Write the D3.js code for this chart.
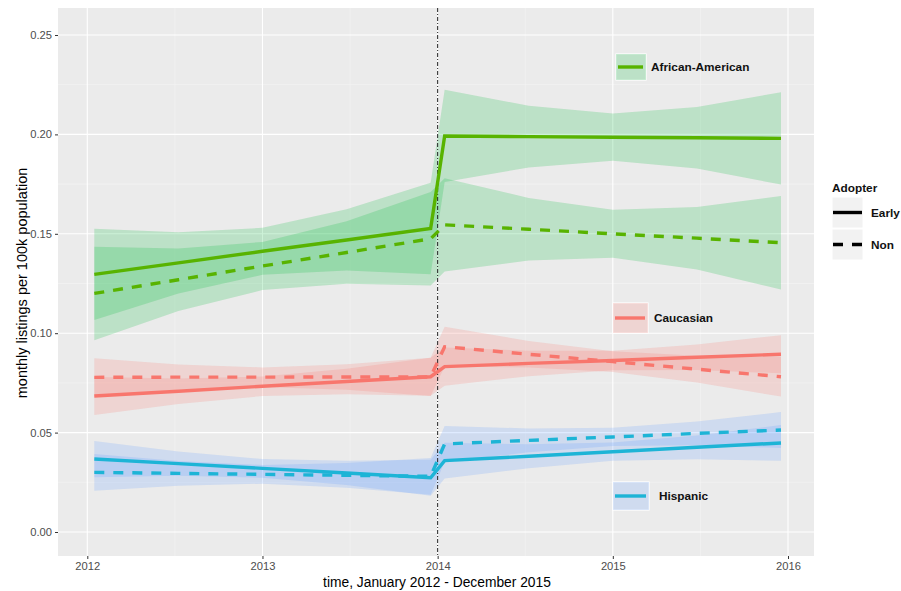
<!DOCTYPE html>
<html>
<head>
<meta charset="utf-8">
<script src="https://cdn.jsdelivr.net/npm/d3@7"></script>
<style>
  html, body { margin: 0; padding: 0; background: #ffffff; }
  svg { display: block; font-family: "Liberation Sans", Arial, Helvetica, sans-serif; }
</style>
</head>
<body>
<svg id="chart" width="901" height="591"></svg>
<script>
// Sample times (decimal years, mid-month): five points before and five after Jan 2014
const times = [2012.04, 2012.52, 2013.0, 2013.48, 2013.96, 2014.04, 2014.52, 2015.0, 2015.48, 2015.96];

// Monthly listings per 100k population: fitted values and confidence limits
const aaEarly      = [0.1296, 0.1354, 0.1412, 0.1469, 0.1527, 0.1992, 0.1989, 0.1986, 0.1983, 0.1980];
const aaEarlyLow   = [0.1066, 0.1200, 0.1294, 0.1315, 0.1297, 0.1760, 0.1834, 0.1867, 0.1828, 0.1748];
const aaEarlyHigh  = [0.1526, 0.1508, 0.1530, 0.1623, 0.1757, 0.2224, 0.2144, 0.2105, 0.2138, 0.2212];

const aaNon        = [0.1200, 0.1269, 0.1338, 0.1406, 0.1475, 0.1545, 0.1523, 0.1500, 0.1478, 0.1455];
const aaNonLow     = [0.0965, 0.1112, 0.1217, 0.1249, 0.1240, 0.1310, 0.1366, 0.1379, 0.1321, 0.1220];
const aaNonHigh    = [0.1435, 0.1426, 0.1459, 0.1563, 0.1710, 0.1780, 0.1680, 0.1621, 0.1635, 0.1690];

const caEarly      = [0.0684, 0.0708, 0.0733, 0.0757, 0.0781, 0.0832, 0.0848, 0.0863, 0.0879, 0.0894];
const caEarlyLow   = [0.0588, 0.0644, 0.0684, 0.0693, 0.0685, 0.0736, 0.0784, 0.0814, 0.0815, 0.0798];
const caEarlyHigh  = [0.0780, 0.0772, 0.0782, 0.0821, 0.0877, 0.0928, 0.0912, 0.0912, 0.0943, 0.0990];

const caNon        = [0.0778, 0.0779, 0.0779, 0.0780, 0.0780, 0.0932, 0.0894, 0.0857, 0.0819, 0.0781];
const caNonLow     = [0.0682, 0.0715, 0.0730, 0.0716, 0.0684, 0.0832, 0.0827, 0.0805, 0.0752, 0.0681];
const caNonHigh    = [0.0874, 0.0843, 0.0828, 0.0844, 0.0876, 0.1032, 0.0961, 0.0909, 0.0886, 0.0881];

const hiEarly      = [0.0367, 0.0344, 0.0320, 0.0297, 0.0273, 0.0359, 0.0381, 0.0404, 0.0426, 0.0448];
const hiEarlyLow   = [0.0276, 0.0283, 0.0273, 0.0236, 0.0182, 0.0269, 0.0321, 0.0358, 0.0366, 0.0358];
const hiEarlyHigh  = [0.0458, 0.0405, 0.0367, 0.0358, 0.0364, 0.0449, 0.0441, 0.0450, 0.0486, 0.0538];

const hiNon        = [0.0300, 0.0295, 0.0290, 0.0285, 0.0280, 0.0443, 0.0461, 0.0478, 0.0496, 0.0513];
const hiNonLow     = [0.0208, 0.0233, 0.0243, 0.0223, 0.0188, 0.0353, 0.0401, 0.0432, 0.0436, 0.0423];
const hiNonHigh    = [0.0392, 0.0357, 0.0337, 0.0347, 0.0372, 0.0533, 0.0521, 0.0524, 0.0556, 0.0603];

// Groups, adopter types and axis ticks
const groups = ["African-American", "Caucasian", "Hispanic"];
const adopters = ["Early", "Non"];
const yTicks = [0, 0.05, 0.10, 0.15, 0.20, 0.25];
const yMinor = [0.025, 0.075, 0.125, 0.175, 0.225];
const xTicks = [2012, 2013, 2014, 2015, 2016];
const xMinor = [2012.5, 2013.5, 2014.5, 2015.5];
const cutoff = 2014;

const lineColor = { "African-American": "#58B300", "Caucasian": "#F8766D", "Hispanic": "#1DB4D6" };
const fillColor = { "African-American": "#00BA38", "Caucasian": "#F8766D", "Hispanic": "#619CFF" };

const series = [
  { group: "African-American", adopter: "Early", mid: aaEarly, lo: aaEarlyLow, hi: aaEarlyHigh },
  { group: "African-American", adopter: "Non",   mid: aaNon,   lo: aaNonLow,   hi: aaNonHigh },
  { group: "Caucasian",        adopter: "Early", mid: caEarly, lo: caEarlyLow, hi: caEarlyHigh },
  { group: "Caucasian",        adopter: "Non",   mid: caNon,   lo: caNonLow,   hi: caNonHigh },
  { group: "Hispanic",         adopter: "Early", mid: hiEarly, lo: hiEarlyLow, hi: hiEarlyHigh },
  { group: "Hispanic",         adopter: "Non",   mid: hiNon,   lo: hiNonLow,   hi: hiNonHigh }
];

const svg = d3.select("#chart");
const panel = { left: 58, right: 814, top: 8, bottom: 556 };

const x = d3.scaleLinear().domain([2012, 2016]).range([87.3, 788]);
const y = d3.scaleLinear().domain([0, 0.25]).range([532, 35]);

// Panel background and grid
svg.append("rect")
  .attr("x", panel.left).attr("y", panel.top)
  .attr("width", panel.right - panel.left).attr("height", panel.bottom - panel.top)
  .attr("fill", "#EBEBEB");

const grid = svg.append("g");
grid.selectAll(".ymin").data(yMinor).join("line")
  .attr("x1", panel.left).attr("x2", panel.right)
  .attr("y1", d => y(d)).attr("y2", d => y(d))
  .attr("stroke", "#F5F5F5").attr("stroke-width", 0.6);
grid.selectAll(".xmin").data(xMinor).join("line")
  .attr("y1", panel.top).attr("y2", panel.bottom)
  .attr("x1", d => x(d)).attr("x2", d => x(d))
  .attr("stroke", "#F5F5F5").attr("stroke-width", 0.6);
grid.selectAll(".ymaj").data(yTicks).join("line")
  .attr("x1", panel.left).attr("x2", panel.right)
  .attr("y1", d => y(d)).attr("y2", d => y(d))
  .attr("stroke", "#FFFFFF").attr("stroke-width", 1.1);
grid.selectAll(".xmaj").data(xTicks).join("line")
  .attr("y1", panel.top).attr("y2", panel.bottom)
  .attr("x1", d => x(d)).attr("x2", d => x(d))
  .attr("stroke", "#FFFFFF").attr("stroke-width", 1.1);

// Confidence ribbons
const area = d3.area()
  .x(d => x(d.t))
  .y0(d => y(d.lo))
  .y1(d => y(d.hi));

const rows = s => times.map((t, i) => ({ t, mid: s.mid[i], lo: s.lo[i], hi: s.hi[i] }));

svg.append("g").selectAll("path").data(series).join("path")
  .attr("d", s => area(rows(s)))
  .attr("fill", s => fillColor[s.group])
  .attr("fill-opacity", 0.2);

// Policy date marker
svg.append("line")
  .attr("x1", x(cutoff)).attr("x2", x(cutoff))
  .attr("y1", panel.top).attr("y2", panel.bottom)
  .attr("stroke", "#222").attr("stroke-width", 1)
  .attr("stroke-dasharray", "4,2,1,2");

// Fitted lines
const line = d3.line().x(d => x(d.t)).y(d => y(d.mid));
svg.append("g").selectAll("path").data(series).join("path")
  .attr("d", s => line(rows(s)))
  .attr("fill", "none")
  .attr("stroke", s => lineColor[s.group])
  .attr("stroke-width", 3.4)
  .attr("stroke-dasharray", s => s.adopter === "Non" ? "10,9" : null);

// Axes
const yAxis = svg.append("g")
  .attr("transform", `translate(${panel.left},0)`)
  .call(d3.axisLeft(y).tickValues(yTicks).tickFormat(d3.format(".2f")).tickSize(3).tickPadding(3));
const xAxis = svg.append("g")
  .attr("transform", `translate(0,${panel.bottom})`)
  .call(d3.axisBottom(x).tickValues(xTicks).tickFormat(d3.format("d")).tickSize(3).tickPadding(3));
[yAxis, xAxis].forEach(a => {
  a.select(".domain").remove();
  a.selectAll(".tick line").attr("stroke", "#333");
  a.selectAll(".tick text").attr("fill", "#4D4D4D").attr("font-size", 11.2)
    .attr("font-family", "Liberation Sans, Arial, sans-serif");
});

svg.append("text")
  .attr("x", 437).attr("y", 587)
  .attr("text-anchor", "middle").attr("font-size", 13.8).attr("fill", "#000")
  .text("time, January 2012 - December 2015");

svg.append("text")
  .attr("transform", `translate(27,283) rotate(-90)`)
  .attr("text-anchor", "middle").attr("font-size", 14.5).attr("fill", "#000")
  .text("monthly listings per 100k population");

// Group labels placed inside the panel
const groupKeys = [
  { group: "African-American", box: [616, 54, 30, 26], tx: 651 },
  { group: "Caucasian",        box: [613, 303, 35, 30], tx: 654 },
  { group: "Hispanic",         box: [613, 482, 36, 28], tx: 659 }
];
const gk = svg.append("g").selectAll("g").data(groupKeys).join("g");
gk.append("rect")
  .attr("x", d => d.box[0]).attr("y", d => d.box[1])
  .attr("width", d => d.box[2]).attr("height", d => d.box[3])
  .attr("fill", "#EBEBEB").attr("stroke", "#FFFFFF").attr("stroke-width", 1.2);
gk.append("rect")
  .attr("x", d => d.box[0]).attr("y", d => d.box[1])
  .attr("width", d => d.box[2]).attr("height", d => d.box[3])
  .attr("fill", d => fillColor[d.group]).attr("fill-opacity", 0.2);
gk.append("line")
  .attr("x1", d => d.box[0] + 2).attr("x2", d => d.box[0] + d.box[2] - 3)
  .attr("y1", d => d.box[1] + d.box[3] / 2).attr("y2", d => d.box[1] + d.box[3] / 2)
  .attr("stroke", d => lineColor[d.group]).attr("stroke-width", 3.4);
gk.append("text")
  .attr("x", d => d.tx).attr("y", d => d.box[1] + d.box[3] / 2)
  .attr("dy", "0.35em").attr("font-size", 11.8).attr("font-weight", "bold").attr("fill", "#111")
  .text(d => d.group);

// Adopter legend
const lg = svg.append("g").attr("transform", "translate(832,0)");
lg.append("text").attr("x", 0).attr("y", 188).attr("dy", "0.35em")
  .attr("font-size", 11.8).attr("font-weight", "bold").attr("fill", "#111").text("Adopter");
const items = lg.selectAll(".item").data(adopters).join("g")
  .attr("transform", (d, i) => `translate(0,${197 + i * 32})`);
items.append("rect").attr("width", 31).attr("height", 31).attr("fill", "#F2F2F2")
  .attr("stroke", "#FFFFFF").attr("stroke-width", 1);
items.append("line").attr("x1", 1).attr("x2", 30).attr("y1", 15.5).attr("y2", 15.5)
  .attr("stroke", "#000").attr("stroke-width", 3.4)
  .attr("stroke-dasharray", d => d === "Non" ? "10,9" : null);
items.append("text").attr("x", 39).attr("y", 15.5).attr("dy", "0.35em")
  .attr("font-size", 11.8).attr("font-weight", "bold").attr("fill", "#111").text(d => d);
</script>
</body>
</html>
